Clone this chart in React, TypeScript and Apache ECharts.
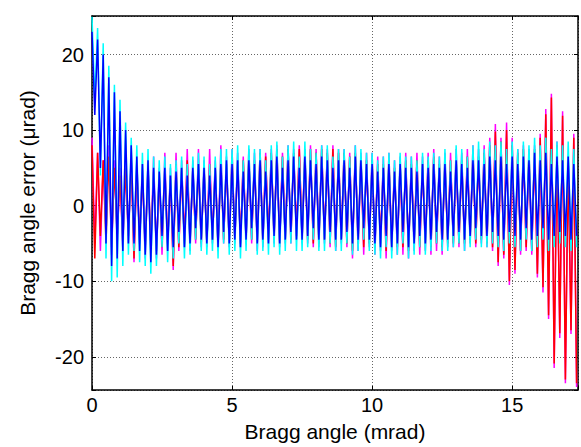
import React, { useEffect, useRef } from "react";
import * as echarts from "echarts";

// Sampling grid of the Bragg angle (mrad)
const ANGLE_STEP = 0.1;
const SAMPLE_COUNT = 174;
const braggAngle: number[] = Array.from({ length: SAMPLE_COUNT }, (_, i) => +(i * ANGLE_STEP).toFixed(1));

const xTickValues = [0, 5, 10, 15];
const yTickValues = [-20, -10, 0, 10, 20];

// Bragg angle error (µrad)
const blueErr = [
  23, 12, 22, 5, 20, -5, 17, -8, 15, -7,
  12.5, -6, 10, -5, 8, -5, 6.5, -6, 5.5, -6.5,
  6, -7.5, 5, -6.5, 4.5, -4, 5, -6, 4, -5.5,
  4.5, -3.5, 5, -5.5, 4, -5, 5, -3, 5.5, -4.5,
  5, -5, 4, -4.5, 5, -5.5, 5.5, -3.5, 6, -5,
  5.5, -4.5, 6, -5.5, 4.5, -4.5, 6, -3, 5.5, -5,
  6, -4.5, 4.5, -5, 6, -4, 6.5, -5, 5, -4.5,
  6, -3.5, 6.5, -4.5, 5, -4.5, 6.5, -4, 6, -3,
  5.5, -4.5, 6.5, -4.5, 6, -3.5, 5, -4.5, 6, -4.5,
  6, -3.5, 5, -5, 6.5, -4.5, 6, -3, 5.5, -4.5,
  5.5, -5, 4.5, -5.5, 5, -4, 5.5, -5.5, 4.5, -5,
  5.5, -3.5, 5, -5.5, 5, -5, 4.5, -4, 5.5, -5,
  5, -4.5, 5.5, -3.5, 5, -4.5, 5.5, -4.5, 4.5, -4,
  6, -3.5, 5.5, -4.5, 5, -4, 6, -3, 6, -4,
  5.5, -4, 6.5, -3.5, 6, -4, 6.5, -4.5, 5.5, -3.5,
  6.5, -4, 5.5, -4.5, 6.5, -3, 6, -4.5, 7, -4,
  6, -3, 7, -4.5, 5.5, -4, 6.5, -3.5, 6, -4,
  6.5, -4.5, 5.5, -4,
];

const cyanErr = [
  25, 14, 23.5, 4, 21.5, -7, 18.5, -10, 16, -9.5,
  14, -8, 11, -6.5, 9, -6, 8, -7.5, 7, -8,
  7.5, -9, 6.5, -8, 6, -5.5, 6.5, -7.5, 5.5, -7,
  6, -5, 6.5, -7, 5.5, -6.5, 6.5, -4.5, 7, -6,
  6.5, -6.5, 5.5, -6, 6.5, -7, 7.5, -5, 7.5, -6.5,
  7.5, -6, 8, -7, 6, -6, 8, -4.5, 7.5, -6.5,
  7.5, -6, 6, -6.5, 8, -5.5, 8.5, -6.5, 6.5, -6,
  8, -5, 8.5, -6, 6.5, -6, 8.5, -5.5, 7.5, -4.5,
  7, -6, 8, -6, 8, -5, 6.5, -6, 7.5, -6,
  7.5, -5, 6.5, -6.5, 8, -6, 7.5, -4.5, 7, -6,
  7, -6.5, 6, -7, 6.5, -5.5, 7, -7, 6, -6.5,
  7, -5, 6.5, -7, 6.5, -6.5, 6, -5.5, 7, -6.5,
  6.5, -6, 7, -5, 6.5, -6, 7.5, -6, 6, -5.5,
  8, -5, 7.5, -6, 6.5, -5.5, 8, -4.5, 8.5, -5.5,
  7.5, -5.5, 8.5, -5, 8, -5.5, 8.5, -6, 7.5, -5,
  8.5, -5.5, 7.5, -6, 8.5, -4.5, 8, -6, 9, -5.5,
  8, -4.5, 9, -6, 7.5, -5.5, 8.5, -5, 8, -5.5,
  8.5, -6, 7.5, -5.5,
];

const magentaErr = [
  9, -5, 7, -6, 6, -4, 8, -6.5, 6, -5,
  5, -6, 6, -5, 7, -7.5, 6, -5, 5.5, -7,
  6, -6, 6.5, -7, 5, -6.5, 7, -6, 5, -8.5,
  7, -6, 6, -5.5, 7.5, -6, 6, -5, 7.5, -5.5,
  6, -5.5, 7.5, -5, 6, -6, 8, -5, 6.5, -5.5,
  7.5, -5, 7, -5.5, 6.5, -5, 7.5, -5, 7, -6,
  7.5, -5.5, 7, -5, 7.5, -5, 8, -5.5, 7, -5,
  8, -5, 7.5, -4.5, 8, -5, 7.5, -5, 8, -5.5,
  7.5, -5.5, 8, -5, 7.5, -5.5, 8, -6, 7.5, -5,
  7.5, -5.5, 7, -7, 8, -6, 7, -6.5, 7, -5.5,
  7, -6.5, 6.5, -6, 6.5, -7, 7, -6, 6, -6.5,
  6.5, -6.5, 7, -7, 6.5, -6, 7, -6.5, 6.5, -6,
  7, -6.5, 7.5, -6, 6.5, -6.5, 7, -5.5, 7, -5.5,
  7.5, -5.5, 7, -6, 7.5, -5, 8, -5.5, 7.5, -5,
  8, -5.5, 9, -6, 10.8, -8, 9, -7, 11, -10.5,
  9, -9, 7.5, -6.5, 8, -6, 7.5, -6.5, 8, -9.5,
  9.5, -11.5, 12.8, -15, 14.8, -21.5, 8.5, -17.5, 12.5, -23.5,
  6.5, -17, 9.5, -24,
];

const redErr = [
  8, -7, 7, -4, 6, -5, 6.5, -5.5, 5, -4,
  4, -5, 5, -4, 6, -7, 5, -4.5, 4, -5.5,
  5, -5, 4.5, -6, 4, -5.5, 5, -5, 4, -8,
  5.5, -5.5, 5, -5, 6, -5, 5, -4.5, 5.5, -5,
  5, -5, 5.5, -4.5, 5, -5.5, 6, -4.5, 5.5, -5,
  6.5, -4.5, 6, -5, 6, -4.5, 6.5, -4.5, 6, -5,
  7, -5, 6.5, -4.5, 7, -4.5, 7.5, -5, 6.5, -4.5,
  7.5, -4.5, 7, -4, 7.5, -4.5, 7, -4.5, 7.5, -5,
  7, -5, 7.5, -4.5, 7, -5, 7.5, -5.5, 7, -4.5,
  7, -5, 6.5, -6, 7, -5, 6.5, -5.5, 6, -5,
  6, -5.5, 5.5, -5, 5.5, -6, 6, -5.5, 5, -5.5,
  5.5, -5.5, 6, -6, 5.5, -5, 6, -5.5, 5.5, -5,
  6, -5.5, 6.5, -5, 5.5, -5.5, 6, -5, 6, -5,
  6.5, -5, 6, -5, 6.5, -4.5, 7, -5, 6.5, -4.5,
  7, -5, 8, -5.5, 9.8, -7.5, 8.5, -6.5, 10, -10,
  8, -8.5, 7, -6, 7.5, -5.5, 7, -6, 7.5, -9,
  9, -10.8, 12.1, -14.5, 14.3, -20.9, 8, -16.9, 11.9, -23,
  6, -16.5, 9, -23.5,
];

const seriesDefs = [
  { name: "magenta", color: "#ff00ff", values: magentaErr },
  { name: "red", color: "#ff0000", values: redErr },
  { name: "cyan", color: "#00ffff", values: cyanErr },
  { name: "blue", color: "#0000ff", values: blueErr },
];

const FONT = '"Liberation Sans", Arial, Helvetica, sans-serif';
const X_MIN = 0;
const X_MAX = 17.35;
const Y_MIN = -24.4;
const Y_MAX = 25.1;

export default function App() {
  const ref = useRef<HTMLDivElement>(null);

  useEffect(() => {
    if (!ref.current) return;
    const chart = echarts.init(ref.current, null, { renderer: "svg" });

    const near = (v: number, list: number[]) => list.some((t) => Math.abs(t - v) < 1e-6);
    const axisLine = { show: true, onZero: false, lineStyle: { color: "#000", width: 1.5 } };
    const tick = { show: true, inside: true, length: 4, lineStyle: { color: "#000", width: 1 } };
    const split = { show: true, lineStyle: { color: "#666", width: 1, type: [1, 2] as any } };

    chart.setOption({
      animation: false,
      backgroundColor: "#fff",
      grid: { left: 92, right: -2, top: 16, bottom: 54, containLabel: false },
      xAxis: [
        {
          type: "value",
          position: "bottom",
          min: X_MIN,
          max: X_MAX,
          splitNumber: 4,
          axisLine,
          axisTick: tick,
          splitLine: split,
          axisLabel: {
            color: "#000",
            fontSize: 20,
            fontFamily: FONT,
            margin: 5,
            formatter: (v: number) => (near(v, xTickValues) ? String(Math.round(v)) : ""),
          },
          name: "Bragg angle (mrad)",
          nameLocation: "middle",
          nameGap: 31,
          nameTextStyle: { color: "#000", fontSize: 21, fontFamily: FONT },
        },
        {
          type: "value",
          position: "top",
          min: X_MIN,
          max: X_MAX,
          splitNumber: 4,
          axisLine,
          axisTick: tick,
          axisLabel: { show: false },
          splitLine: { show: false },
        },
      ],
      yAxis: [
        {
          type: "value",
          position: "left",
          min: Y_MIN,
          max: Y_MAX,
          splitNumber: 5,
          axisLine,
          axisTick: tick,
          splitLine: split,
          axisLabel: {
            color: "#000",
            fontSize: 20,
            fontFamily: FONT,
            margin: 8,
            formatter: (v: number) => (near(v, yTickValues) ? String(Math.round(v)) : ""),
          },
          name: "Bragg angle error (μrad)",
          nameLocation: "middle",
          nameGap: 54,
          nameTextStyle: { color: "#000", fontSize: 21, fontFamily: FONT },
        },
        {
          type: "value",
          position: "right",
          min: Y_MIN,
          max: Y_MAX,
          splitNumber: 5,
          axisLine,
          axisTick: tick,
          axisLabel: { show: false },
          splitLine: { show: false },
        },
      ],
      series: seriesDefs.map((s) => ({
        name: s.name,
        type: "line",
        xAxisIndex: 0,
        yAxisIndex: 0,
        data: braggAngle.map((x, i) => [x, s.values[i]]),
        showSymbol: false,
        symbol: "none",
        silent: true,
        clip: true,
        lineStyle: { color: s.color, width: 1.5 },
        itemStyle: { color: s.color },
      })),
    });

    return () => chart.dispose();
  }, []);

  return (
    <div
      ref={ref}
      style={{ position: "fixed", left: 0, top: 0, width: 581, height: 447, background: "#fff" }}
    />
  );
}
